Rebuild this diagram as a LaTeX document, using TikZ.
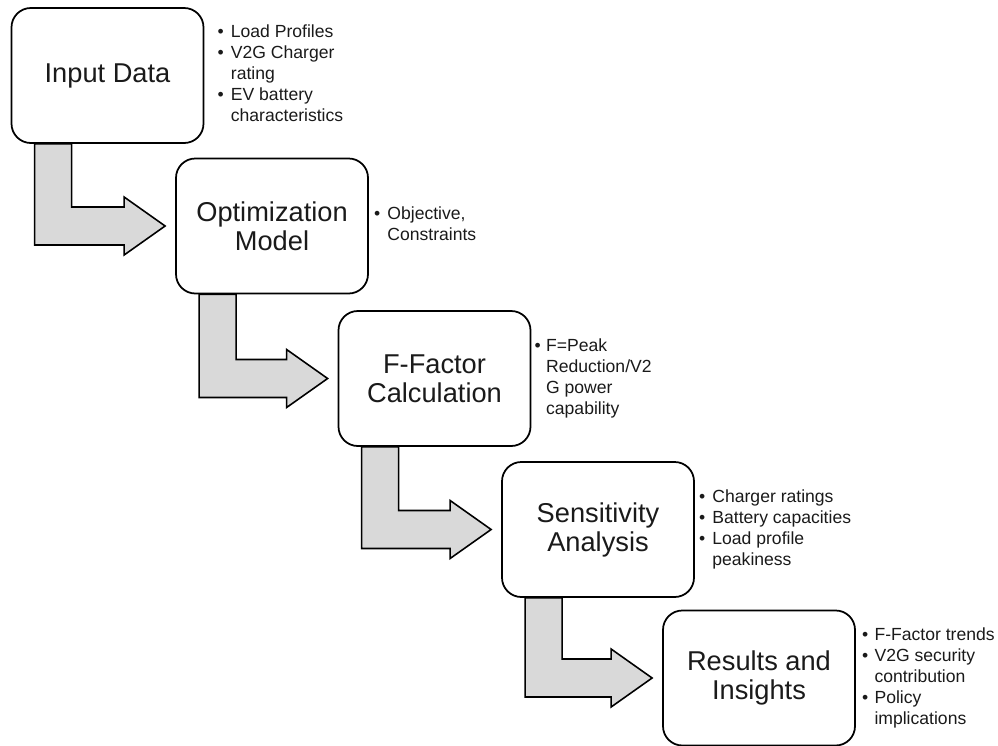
\documentclass[tikz,border=0pt]{standalone}
\usepackage{fontspec}
\setmainfont{Liberation Sans}
\usetikzlibrary{positioning,calc}
\definecolor{arrowgray}{HTML}{D9D9D9}
\definecolor{inkdark}{HTML}{1A1A1A}

\begin{document}
\begin{tikzpicture}[
  stage/.style={draw, line width=1pt, rounded corners=11pt, fill=white, text=inkdark,
    minimum width=3.84cm, minimum height=2.7cm, align=center,
    font=\fontsize{15.5}{16.5}\selectfont},
  notes/.style={inner sep=0pt, text=inkdark, font=\fontsize{10}{12}\selectfont},
  bigarrow/.style={draw, line width=0.9pt, fill=arrowgray, line join=miter}]
  \useasboundingbox (0,0) rectangle (19.96,-14.92);

  % stages
  \node[stage] (input) at (2.15,-1.51) {Input Data};
  \node[stage] (optim) at (5.44,-4.52) {Optimization\\Model};
  \node[stage] (ffact) at (8.69,-7.57) {F-Factor\\Calculation};
  \node[stage] (sens) at (11.96,-10.59) {Sensitivity\\Analysis};
  \node[stage] (res) at (15.18,-13.56) {Results and\\Insights};

  % bullet notes
  \node[notes, right=0.26cm of input] (inputnotes) {\begin{tabular}{@{}l@{\hspace{4pt}}l@{}}
    • & Load Profiles\\ • & V2G Charger\\ & rating\\ • & EV battery\\ & characteristics\end{tabular}};
  \node[notes, right=0.1cm of optim] (optimnotes) {\begin{tabular}{@{}l@{\hspace{4pt}}l@{}}
    • & Objective,\\ & Constraints\end{tabular}};
  \node[notes, right=0.06cm of ffact] (ffactnotes) {\begin{tabular}{@{}l@{\hspace{3pt}}l@{}}
    • & F=Peak\\ & Reduction/V2\\ & G power\\ & capability\end{tabular}};
  \node[notes, right=0.08cm of sens] (sensnotes) {\begin{tabular}{@{}l@{\hspace{4pt}}l@{}}
    • & Charger ratings\\ • & Battery capacities\\ • & Load profile\\ & peakiness\end{tabular}};
  \node[notes, right=0.12cm of res] (resnotes) {\begin{tabular}{@{}l@{\hspace{3.5pt}}l@{}}
    • & F-Factor trends\\ • & V2G security\\ & contribution\\ • & Policy\\ & implications\end{tabular}};

  % bent block arrows
  \draw[bigarrow] ($(input.south west)+(0.48,0)$) -- ($(input.south west)+(1.22,0)$)
    |- ($(optim.west)+(-1.02,0.38)$) -- ++(0,0.2) -- ($(optim.west)+(-0.2,0)$)
    -- ($(optim.west)+(-1.02,-0.58)$) -- ++(0,0.2) -| ($(input.south west)+(0.48,0)$) -- cycle;
  \draw[bigarrow] ($(optim.south west)+(0.48,0)$) -- ($(optim.south west)+(1.22,0)$)
    |- ($(ffact.west)+(-1.02,0.38)$) -- ++(0,0.2) -- ($(ffact.west)+(-0.2,0)$)
    -- ($(ffact.west)+(-1.02,-0.58)$) -- ++(0,0.2) -| ($(optim.south west)+(0.48,0)$) -- cycle;
  \draw[bigarrow] ($(ffact.south west)+(0.48,0)$) -- ($(ffact.south west)+(1.22,0)$)
    |- ($(sens.west)+(-1.02,0.38)$) -- ++(0,0.2) -- ($(sens.west)+(-0.2,0)$)
    -- ($(sens.west)+(-1.02,-0.58)$) -- ++(0,0.2) -| ($(ffact.south west)+(0.48,0)$) -- cycle;
  \draw[bigarrow] ($(sens.south west)+(0.48,0)$) -- ($(sens.south west)+(1.22,0)$)
    |- ($(res.west)+(-1.02,0.38)$) -- ++(0,0.2) -- ($(res.west)+(-0.2,0)$)
    -- ($(res.west)+(-1.02,-0.58)$) -- ++(0,0.2) -| ($(sens.south west)+(0.48,0)$) -- cycle;
\end{tikzpicture}
\end{document}
